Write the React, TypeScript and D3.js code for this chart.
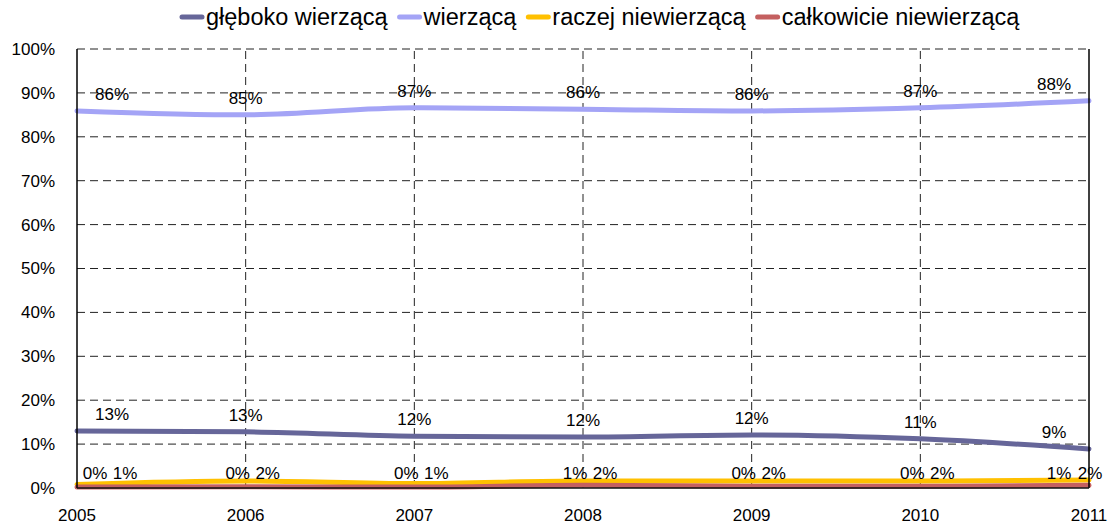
import React, { useEffect, useRef } from 'react';
import * as d3 from 'd3';

const years = ['2005', '2006', '2007', '2008', '2009', '2010', '2011'];
const seriesNames = ['głęboko wierzącą', 'wierzącą', 'raczej niewierzącą', 'całkowicie niewierzącą'];
const gleboko = [13.0, 12.8, 11.8, 11.6, 12.1, 11.2, 8.9];
const wierzaca = [85.9, 85.0, 86.6, 86.3, 85.9, 86.6, 88.2];
const raczej = [0.8, 1.6, 1.0, 1.6, 1.6, 1.6, 1.8];
const calkowicie = [0.2, 0.3, 0.2, 0.6, 0.4, 0.4, 0.6];
const yTicks = [0, 10, 20, 30, 40, 50, 60, 70, 80, 90, 100];
const colors = ['#666699', '#a4a4f6', '#ffc000', '#c46060'];

const App = () => {
    const ref = useRef<SVGSVGElement>(null);

    useEffect(() => {
        document.body.style.margin = '0';
        const width = 1114;
        const height = 528;
        const margin = { top: 49, right: 25, bottom: 40, left: 77 };
        const font = 'Arial, "Liberation Sans", sans-serif';

        const svg = d3.select(ref.current)
            .attr('width', width)
            .attr('height', height);
        svg.selectAll('*').remove();

        const x = d3.scalePoint()
            .domain(years)
            .range([margin.left, width - margin.right]);

        const y = d3.scaleLinear()
            .domain([0, 100])
            .range([height - margin.bottom, margin.top]);

        const x0 = margin.left, x1 = width - margin.right;
        const y0 = height - margin.bottom, y1 = margin.top;

        // grid
        svg.append('g')
            .selectAll('line')
            .data(yTicks.slice(1))
            .join('line')
            .attr('x1', x0).attr('x2', x1)
            .attr('y1', d => y(d)).attr('y2', d => y(d))
            .attr('stroke', '#222')
            .attr('stroke-width', 1)
            .attr('stroke-dasharray', '8,5');

        svg.append('g')
            .selectAll('line')
            .data(years.slice(1, -1))
            .join('line')
            .attr('x1', d => x(d)!).attr('x2', d => x(d)!)
            .attr('y1', y0).attr('y2', y1)
            .attr('stroke', '#222')
            .attr('stroke-width', 1)
            .attr('stroke-dasharray', '8,5');

        // y tick labels
        svg.append('g')
            .selectAll('text')
            .data(yTicks)
            .join('text')
            .attr('x', 55)
            .attr('y', d => y(d))
            .attr('dy', '0.35em')
            .attr('text-anchor', 'end')
            .attr('font-family', font)
            .attr('font-size', 17)
            .text(d => d + '%');

        // x tick labels
        svg.append('g')
            .selectAll('text')
            .data(years)
            .join('text')
            .attr('x', d => x(d)!)
            .attr('y', 515)
            .attr('dy', '0.35em')
            .attr('text-anchor', 'middle')
            .attr('font-family', font)
            .attr('font-size', 17)
            .text(d => d);

        const all = [gleboko, wierzaca, raczej, calkowicie];

        const line = d3.line<number>()
            .x((d, i) => x(years[i])!)
            .y(d => y(d))
            .curve(d3.curveMonotoneX);

        all.forEach((vals, s) => {
            svg.append('path')
                .datum(vals)
                .attr('d', line)
                .attr('fill', 'none')
                .attr('stroke', colors[s])
                .attr('stroke-width', 5)
                .attr('stroke-linecap', 'round');
        });

        // plot border
        svg.append('line').attr('x1', x0).attr('x2', x0).attr('y1', y1).attr('y2', y0)
            .attr('stroke', '#000').attr('stroke-width', 1.5);
        svg.append('line').attr('x1', x1).attr('x2', x1).attr('y1', y1).attr('y2', y0)
            .attr('stroke', '#000').attr('stroke-width', 1.5);
        svg.append('line').attr('x1', x0).attr('x2', x1).attr('y1', y0).attr('y2', y0)
            .attr('stroke', '#111').attr('stroke-width', 1.5);

        // data labels
        const last = years.length - 1;
        const shift = (s: number, i: number) => {
            if (s === 2) return i === 0 ? 48 : i === last ? 1 : 22;
            if (s === 3) return i === 0 ? 18 : i === last ? -30 : -8;
            return i === 0 ? 35 : i === last ? -35 : 0;
        };
        all.forEach((vals, s) => {
            svg.append('g')
                .selectAll('text')
                .data(vals)
                .join('text')
                .attr('x', (d, i) => x(years[i])! + shift(s, i))
                .attr('y', d => s >= 2 ? y(0) - 15 : y(d) - 17)
                .attr('dy', '0.35em')
                .attr('text-anchor', 'middle')
                .attr('font-family', font)
                .attr('font-size', 17)
                .text(d => Math.round(d) + '%');
        });

        // legend
        const legend = svg.append('g');
        let lx = 182;
        seriesNames.forEach((name, s) => {
            legend.append('line')
                .attr('x1', lx).attr('x2', lx + 20)
                .attr('y1', 17).attr('y2', 17)
                .attr('stroke', colors[s])
                .attr('stroke-width', 5)
                .attr('stroke-linecap', 'round');
            const t = legend.append('text')
                .attr('x', lx + 24)
                .attr('y', 17)
                .attr('dy', '0.35em')
                .attr('font-family', font)
                .attr('font-size', 23.5)
                .text(name);
            const w = (t.node() as SVGTextElement).getComputedTextLength();
            lx += 24 + w + 12;
        });
    }, []);

    return <svg ref={ref} style={{ display: 'block' }} />;
};

export default App;
